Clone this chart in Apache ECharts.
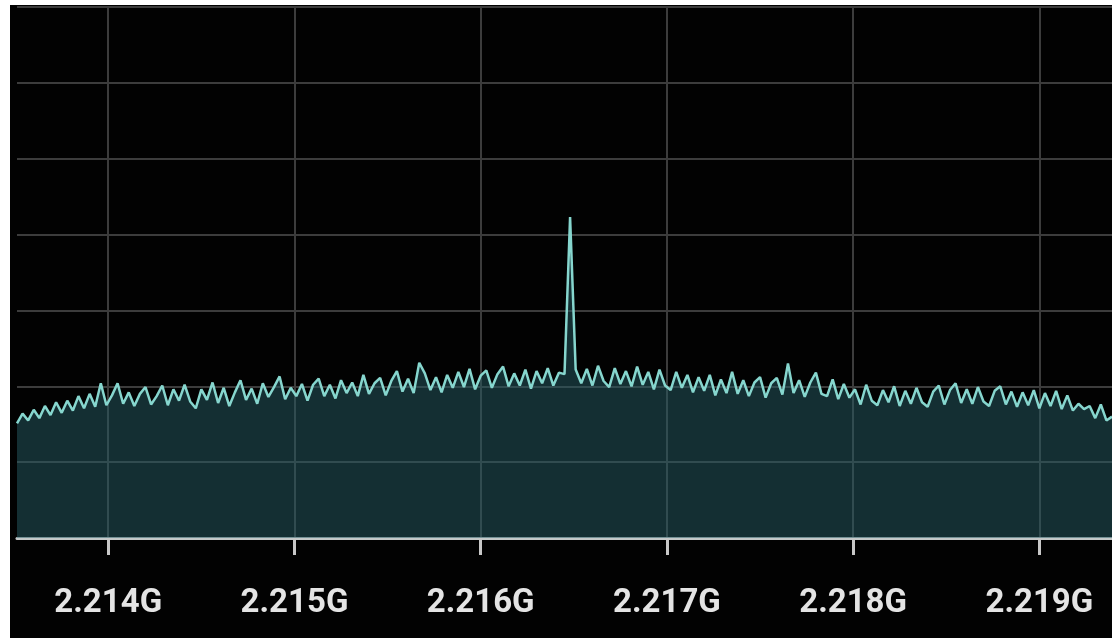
<!DOCTYPE html>
<html>
<head>
<meta charset="utf-8">
<script src="https://cdn.jsdelivr.net/npm/echarts@6/dist/echarts.min.js"></script>
<style>
  html, body { margin: 0; padding: 0; background: #ffffff; width: 1113px; height: 638px; overflow: hidden; }
  #chart { position: absolute; left: 10px; top: 5px; width: 1102px; height: 633px; background: #020202; }
</style>
</head>
<body>
<div id="chart"></div>
<script>
// Frequency sweep (MHz): start and step of the analyser bins
const freqStart = 2213.51;
const freqStep = 0.03;
// Tick labels (MHz)
const tickValues = [2214, 2215, 2216, 2217, 2218, 2219];
const powerValues = [
  -104.9, -103.6, -104.5, -103.1, -104.2, -102.6, -103.8, -102.1, -103.5, -101.9,
  -103.2, -101.3, -102.9, -101.0, -102.7, -99.6, -102.5, -101.2, -99.6, -102.3,
  -100.8, -102.6, -101.0, -100.1, -102.4, -101.3, -99.9, -102.5, -100.4, -101.9,
  -99.8, -102.0, -102.9, -100.4, -101.8, -99.5, -102.2, -100.2, -102.6, -100.8,
  -99.2, -101.8, -100.3, -102.3, -99.6, -101.4, -100.1, -98.7, -101.7, -100.2,
  -101.3, -99.7, -101.9, -99.8, -99.0, -101.3, -99.8, -101.6, -99.2, -100.9,
  -99.5, -101.3, -98.5, -101.0, -99.6, -98.9, -101.2, -99.3, -98.0, -100.7,
  -99.0, -100.9, -96.9, -98.3, -100.5, -98.8, -100.8, -98.5, -100.2, -98.1,
  -100.1, -97.7, -100.4, -98.6, -97.9, -100.2, -98.4, -97.4, -100.0, -98.3,
  -99.9, -97.8, -100.3, -98.0, -99.6, -97.6, -99.9, -98.2, -98.4, -77.7,
  -97.8, -99.6, -97.7, -99.9, -97.3, -99.3, -100.1, -97.6, -99.7, -98.0,
  -100.0, -97.4, -99.8, -98.1, -100.4, -97.8, -99.9, -100.5, -98.1, -100.2,
  -98.5, -100.8, -98.8, -100.6, -98.5, -101.2, -99.1, -100.9, -98.1, -101.0,
  -99.2, -101.3, -99.5, -98.8, -101.5, -99.6, -98.9, -101.1, -97.0, -100.9,
  -99.2, -101.4, -99.5, -98.2, -101.0, -101.3, -99.1, -101.7, -99.7, -101.5,
  -100.4, -102.4, -99.8, -101.9, -102.5, -100.5, -102.1, -100.0, -102.6, -100.6,
  -102.3, -100.2, -102.1, -102.7, -100.7, -99.9, -102.4, -100.5, -99.6, -102.2,
  -100.4, -102.3, -100.1, -102.0, -102.6, -100.6, -100.0, -102.4, -100.7, -102.7,
  -100.8, -102.5, -100.5, -102.9, -100.9, -102.6, -100.6, -103.0, -101.2, -103.2,
  -102.3, -103.0, -102.6, -104.2, -102.4, -104.5, -104.0
];

const seriesData = powerValues.map((v, i) => [+(freqStart + i * freqStep).toFixed(3), v]);

const chart = echarts.init(document.getElementById('chart'), null, { renderer: 'canvas' });
chart.setOption({
  backgroundColor: '#020202',
  animation: false,
  grid: { left: 7, right: 0, top: 2, bottom: 100, containLabel: false },
  xAxis: {
    type: 'value',
    min: 2213.51,
    max: 2219.39,
    axisLine: { show: true, lineStyle: { color: '#c4c8c8', width: 3 } },
    axisTick: {
      show: true,
      customValues: tickValues,
      length: 17,
      lineStyle: { color: '#c8c8c8', width: 3 }
    },
    axisLabel: {
      show: true,
      customValues: tickValues,
      formatter: v => (v / 1000).toFixed(3) + 'G',
      color: '#e4e4e4',
      fontFamily: 'Roboto',
      fontWeight: 'bold',
      fontSize: 33,
      margin: 49
    },
    splitLine: { show: true, lineStyle: { color: '#3c3c3c', width: 2 } }
  },
  yAxis: {
    type: 'value',
    min: -120,
    max: -50,
    interval: 10,
    axisLine: { show: false },
    axisTick: { show: false },
    axisLabel: { show: false },
    splitLine: { show: true, lineStyle: { color: '#3c3c3c', width: 2 } }
  },
  series: [{
    type: 'line',
    data: seriesData,
    showSymbol: false,
    symbol: 'none',
    smooth: false,
    lineStyle: { color: '#86d6ce', width: 2.5 },
    areaStyle: { color: 'rgba(40,92,100,0.72)', origin: 'start' }
  }]
});
</script>
</body>
</html>
